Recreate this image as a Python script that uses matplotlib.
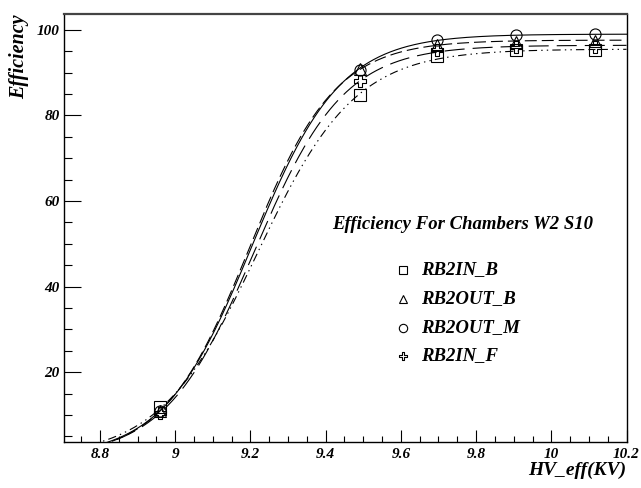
import numpy as np
import matplotlib
matplotlib.use('Agg')
from matplotlib import pyplot as plt
from matplotlib.path import Path

plt.rcParams['font.family'] = 'Liberation Serif'
plt.rcParams['font.weight'] = 'bold'
plt.rcParams['font.style'] = 'italic'
plt.rcParams['lines.scale_dashes'] = False

hv = [8.96, 9.49, 9.695, 9.905, 10.116]

names = ['RB2IN_B', 'RB2OUT_B', 'RB2OUT_M', 'RB2IN_F']
eff_in_b = [11.9, 84.8, 93.8, 95.3, 95.4]
eff_out_b = [11.0, 90.9, 96.5, 97.2, 97.4]
eff_out_m = [10.9, 90.7, 97.6, 98.8, 99.0]
eff_in_f = [10.4, 88.0, 95.2, 95.9, 96.0]

# sigmoid fit parameters: plateau, slope, HV50
fit_emax = [95.5, 97.6, 99.0, 96.4]
fit_slope = [7.7, 8.75, 8.5, 8.4]
fit_hv50 = [9.218, 9.196, 9.204, 9.21]

cross = Path([(-1/3, 1), (1/3, 1), (1/3, 1/3), (1, 1/3), (1, -1/3), (1/3, -1/3),
              (1/3, -1), (-1/3, -1), (-1/3, -1/3), (-1, -1/3), (-1, 1/3), (-1/3, 1/3),
              (-1/3, 1)], closed=True)

markers = ['s', '^', 'o', cross]
styles = [(0, (6, 3, 1, 3, 1, 3)), (0, (8.6, 3.6)), '-', (0, (14.4, 5.8))]
series = [eff_in_b, eff_out_b, eff_out_m, eff_in_f]

fig = plt.figure(figsize=(6.41, 4.88), dpi=100)
ax = fig.add_axes([0.0998, 0.0943, 0.8776, 0.877])

xs = np.linspace(8.7, 10.2, 400)
for i in range(4):
    ys = fit_emax[i] / (1 + np.exp(-fit_slope[i] * (xs - fit_hv50[i])))
    ax.plot(xs, ys, color='black', lw=0.8, linestyle=styles[i])
    ax.plot(hv, series[i], linestyle='none', marker=markers[i], ms=8,
            mfc='none', mec='black', mew=0.8)

ax.set_xlim(8.704, 10.2)
ax.set_ylim(3.7, 103.7)
ax.set_xticks([8.8, 9, 9.2, 9.4, 9.6, 9.8, 10, 10.2])
ax.set_xticklabels(['8.8', '9', '9.2', '9.4', '9.6', '9.8', '10', '10.2'])
ax.set_xticks(np.arange(8.75, 10.2, 0.05), minor=True)
ax.set_yticks([20, 40, 60, 80, 100])
ax.set_yticks(np.arange(5, 104, 5), minor=True)
ax.tick_params(axis='both', which='both', direction='in', top=False, right=False,
               labelsize=11, width=0.8)
ax.tick_params(axis='x', which='major', length=9, pad=4)
ax.tick_params(axis='x', which='minor', length=4.5)
ax.tick_params(axis='y', which='major', length=12, pad=3)
ax.tick_params(axis='y', which='minor', length=6)
for s in ax.spines.values():
    s.set_linewidth(1.0)
ax.spines['top'].set_linewidth(1.6)
ax.spines['top'].set_color('#444444')

fig.text(0.977, 0.037, 'HV_eff(KV)', ha='right', va='center', fontsize=14)
fig.text(0.030, 0.970, 'Efficiency', ha='center', va='top', rotation=90, fontsize=14.5)

ax.text(0.94, 0.509, 'Efficiency For Chambers W2 S10', transform=ax.transAxes,
        ha='right', va='center', fontsize=13.5)
leg_y = [0.402, 0.334, 0.267, 0.201]
for i in range(4):
    ax.plot([0.603], [leg_y[i]], transform=ax.transAxes, marker=markers[i], ms=6,
            mfc='none', mec='black', mew=0.8, linestyle='none')
    ax.text(0.634, leg_y[i], names[i], transform=ax.transAxes, ha='left',
            va='center', fontsize=13.5)

fig.savefig('out.png', dpi=100)
